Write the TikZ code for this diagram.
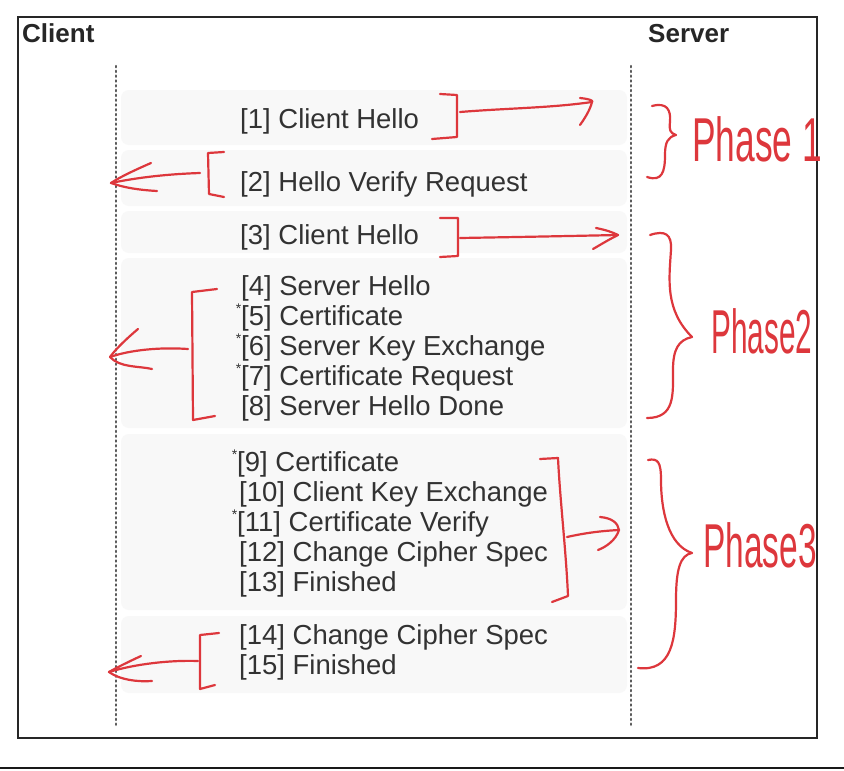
\documentclass[tikz,border=0pt]{standalone}
\usepackage{fontspec}
\setmainfont{Liberation Sans}
\usepackage{graphicx}
\definecolor{ink}{RGB}{221,55,60}
\definecolor{txt}{RGB}{50,50,50}
\definecolor{band}{RGB}{248,248,248}
\tikzset{
  msg/.style={anchor=base west, inner sep=0pt, text=txt, font=\fontsize{27.5}{30}\selectfont},
  hand/.style={draw=ink, line width=2.2pt, line cap=round, line join=round},
  phase/.style={text=ink, inner sep=0pt, font=\fontsize{62}{62}\selectfont},
  headlbl/.style={font=\bfseries\fontsize{26}{30}\selectfont, anchor=base west, inner sep=0pt, text=black!85},
  life/.style={draw=black!65, line width=2.4pt, dash pattern=on 1.2pt off 3.6pt, line cap=round},
  bandbox/.style={fill=band, draw=none, rounded corners=8pt},
}
\newcommand{\optmark}{\llap{\raisebox{0.45em}{\fontsize{14}{14}\selectfont *}}}
\begin{document}
\begin{tikzpicture}[x=1pt,y=-1pt]
\useasboundingbox (0,0) rectangle (844,771);
\fill[white] (0,0) rectangle (844,771);

% faint message bands
\fill[bandbox] (121,90) rectangle (627,145);
\fill[bandbox] (121,150) rectangle (627,206);
\fill[bandbox] (121,211) rectangle (627,253);
\fill[bandbox] (121,258) rectangle (627,428);
\fill[bandbox] (121,434) rectangle (627,610);
\fill[bandbox] (121,616) rectangle (627,693);

% frame
\draw[black!85, line width=1.6pt] (18,17) rectangle (817,738);
\draw[black!90, line width=2pt] (0,768) -- (844,768);

% headers
\node[headlbl] (client) at (22,42) {Client};
\node[headlbl] (server) at (648,42) {Server};

% lifelines
\coordinate (cl0) at (116,66);
\coordinate (cl1) at (116,728);
\coordinate (sv0) at (631,66);
\coordinate (sv1) at (631,728);
\draw[life] (cl0) -- (cl1);
\draw[life] (sv0) -- (sv1);

% messages
\node[msg] (m1) at (240,128.5) {[1] Client Hello};
\node[msg] (m2) at (240,191.5) {[2] Hello Verify Request};
\node[msg] (m3) at (240,244.5) {[3] Client Hello};
\node[msg] (m4) at (241,295.5) {[4] Server Hello};
\node[msg] (m5) at (241,325.5) {\optmark[5] Certificate};
\node[msg] (m6) at (241,355.5) {\optmark[6] Server Key Exchange};
\node[msg] (m7) at (241,385.5) {\optmark[7] Certificate Request};
\node[msg] (m8) at (241,415.5) {[8] Server Hello Done};
\node[msg] (m9) at (237,471.5) {\optmark[9] Certificate};
\node[msg] (m10) at (239,501.5) {[10] Client Key Exchange};
\node[msg] (m11) at (237,531.5) {\optmark[11] Certificate Verify};
\node[msg] (m12) at (239,561.5) {[12] Change Cipher Spec};
\node[msg] (m13) at (239,591.5) {[13] Finished};
\node[msg] (m14) at (239,644.5) {[14] Change Cipher Spec};
\node[msg] (m15) at (239,674.5) {[15] Finished};

% ---- red annotations ----
% [1] bracket and arrow
\draw[hand] (440,94) -- (457,95) -- (457,137) -- (432,139);
\coordinate (a1s) at (460,112);
\coordinate (a1e) at (592,102);
\draw[hand] (a1s) .. controls (510,108) and (550,108) .. (a1e);
\draw[hand] (580,98) .. controls (590,99) and (594,101) .. (a1e) .. controls (590,110) and (585,118) .. (580,125);

% [2] bracket and arrow
\draw[hand] (224,152) -- (208,153) -- (209,194) -- (224,197);
\coordinate (a2s) at (200,173);
\coordinate (a2e) at (111,183);
\draw[hand] (a2s) .. controls (170,174) and (140,177) .. (a2e);
\draw[hand] (151,163) .. controls (135,170) and (120,177) .. (a2e) .. controls (125,188) and (140,190) .. (157,191);

% [3] bracket and arrow
\draw[hand] (440,218) -- (458,218) -- (458,256) -- (440,257);
\coordinate (a3s) at (460,238);
\coordinate (a3e) at (618,235);
\draw[hand] (a3s) .. controls (520,237) and (570,236) .. (a3e);
\draw[hand] (596,228) .. controls (606,230) and (612,232) .. (a3e) .. controls (608,240) and (600,245) .. (593,249);

% phase 1 brace
\draw[hand] (652,106) .. controls (667,102) and (671,110) .. (670,122) .. controls (669,130) and (670,133) .. (676,135)
  .. controls (668,137) and (665,142) .. (665,155) .. controls (665,172) and (662,182) .. (647,177);
\node[phase] (p1) at (757,139) {\scalebox{0.57}[1]{Phase 1}};

% [4]-[8] bracket and arrow
\draw[hand] (217,289) -- (192,292) -- (193,420) -- (215,416);
\coordinate (a4s) at (188,349);
\coordinate (a4e) at (110,357);
\draw[hand] (a4s) .. controls (160,347) and (130,350) .. (a4e);
\draw[hand] (138,329) .. controls (125,340) and (115,350) .. (a4e) .. controls (120,368) and (140,366) .. (152,369);

% phase 2 brace
\draw[hand] (650,235) .. controls (665,230) and (672,234) .. (671,250) .. controls (669,280) and (665,310) .. (692,337)
  .. controls (678,340) and (673,350) .. (673,370) .. controls (673,395) and (675,418) .. (647,418);
\node[phase] (p2) at (762,331) {\scalebox{0.48}[1]{Phase2}};

% [9]-[13] bracket and arrow
\draw[hand] (540,459) -- (558,458) .. controls (560,500) and (566,550) .. (568,596) -- (552,602);
\coordinate (a5s) at (567,537);
\coordinate (a5e) at (619,530);
\draw[hand] (a5s) .. controls (585,533) and (600,531) .. (a5e);
\draw[hand] (600,517) .. controls (612,518) and (618,523) .. (a5e) .. controls (616,540) and (606,547) .. (598,550);

% phase 3 brace
\draw[hand] (648,460) .. controls (658,458) and (661,462) .. (661,480) .. controls (661,510) and (668,545) .. (692,553)
  .. controls (680,555) and (676,570) .. (676,600) .. controls (676,640) and (672,672) .. (638,668);
\node[phase] (p3) at (760,545) {\scalebox{0.54}[1]{Phase3}};

% [14]-[15] bracket and arrow
\draw[hand] (219,633) -- (200,635) -- (200,689) -- (215,685);
\coordinate (a6s) at (198,661);
\coordinate (a6e) at (109,672);
\draw[hand] (a6s) .. controls (170,660) and (135,664) .. (a6e);
\draw[hand] (141,656) .. controls (128,662) and (116,668) .. (a6e) .. controls (120,680) and (138,682) .. (152,681);
\end{tikzpicture}
\end{document}
